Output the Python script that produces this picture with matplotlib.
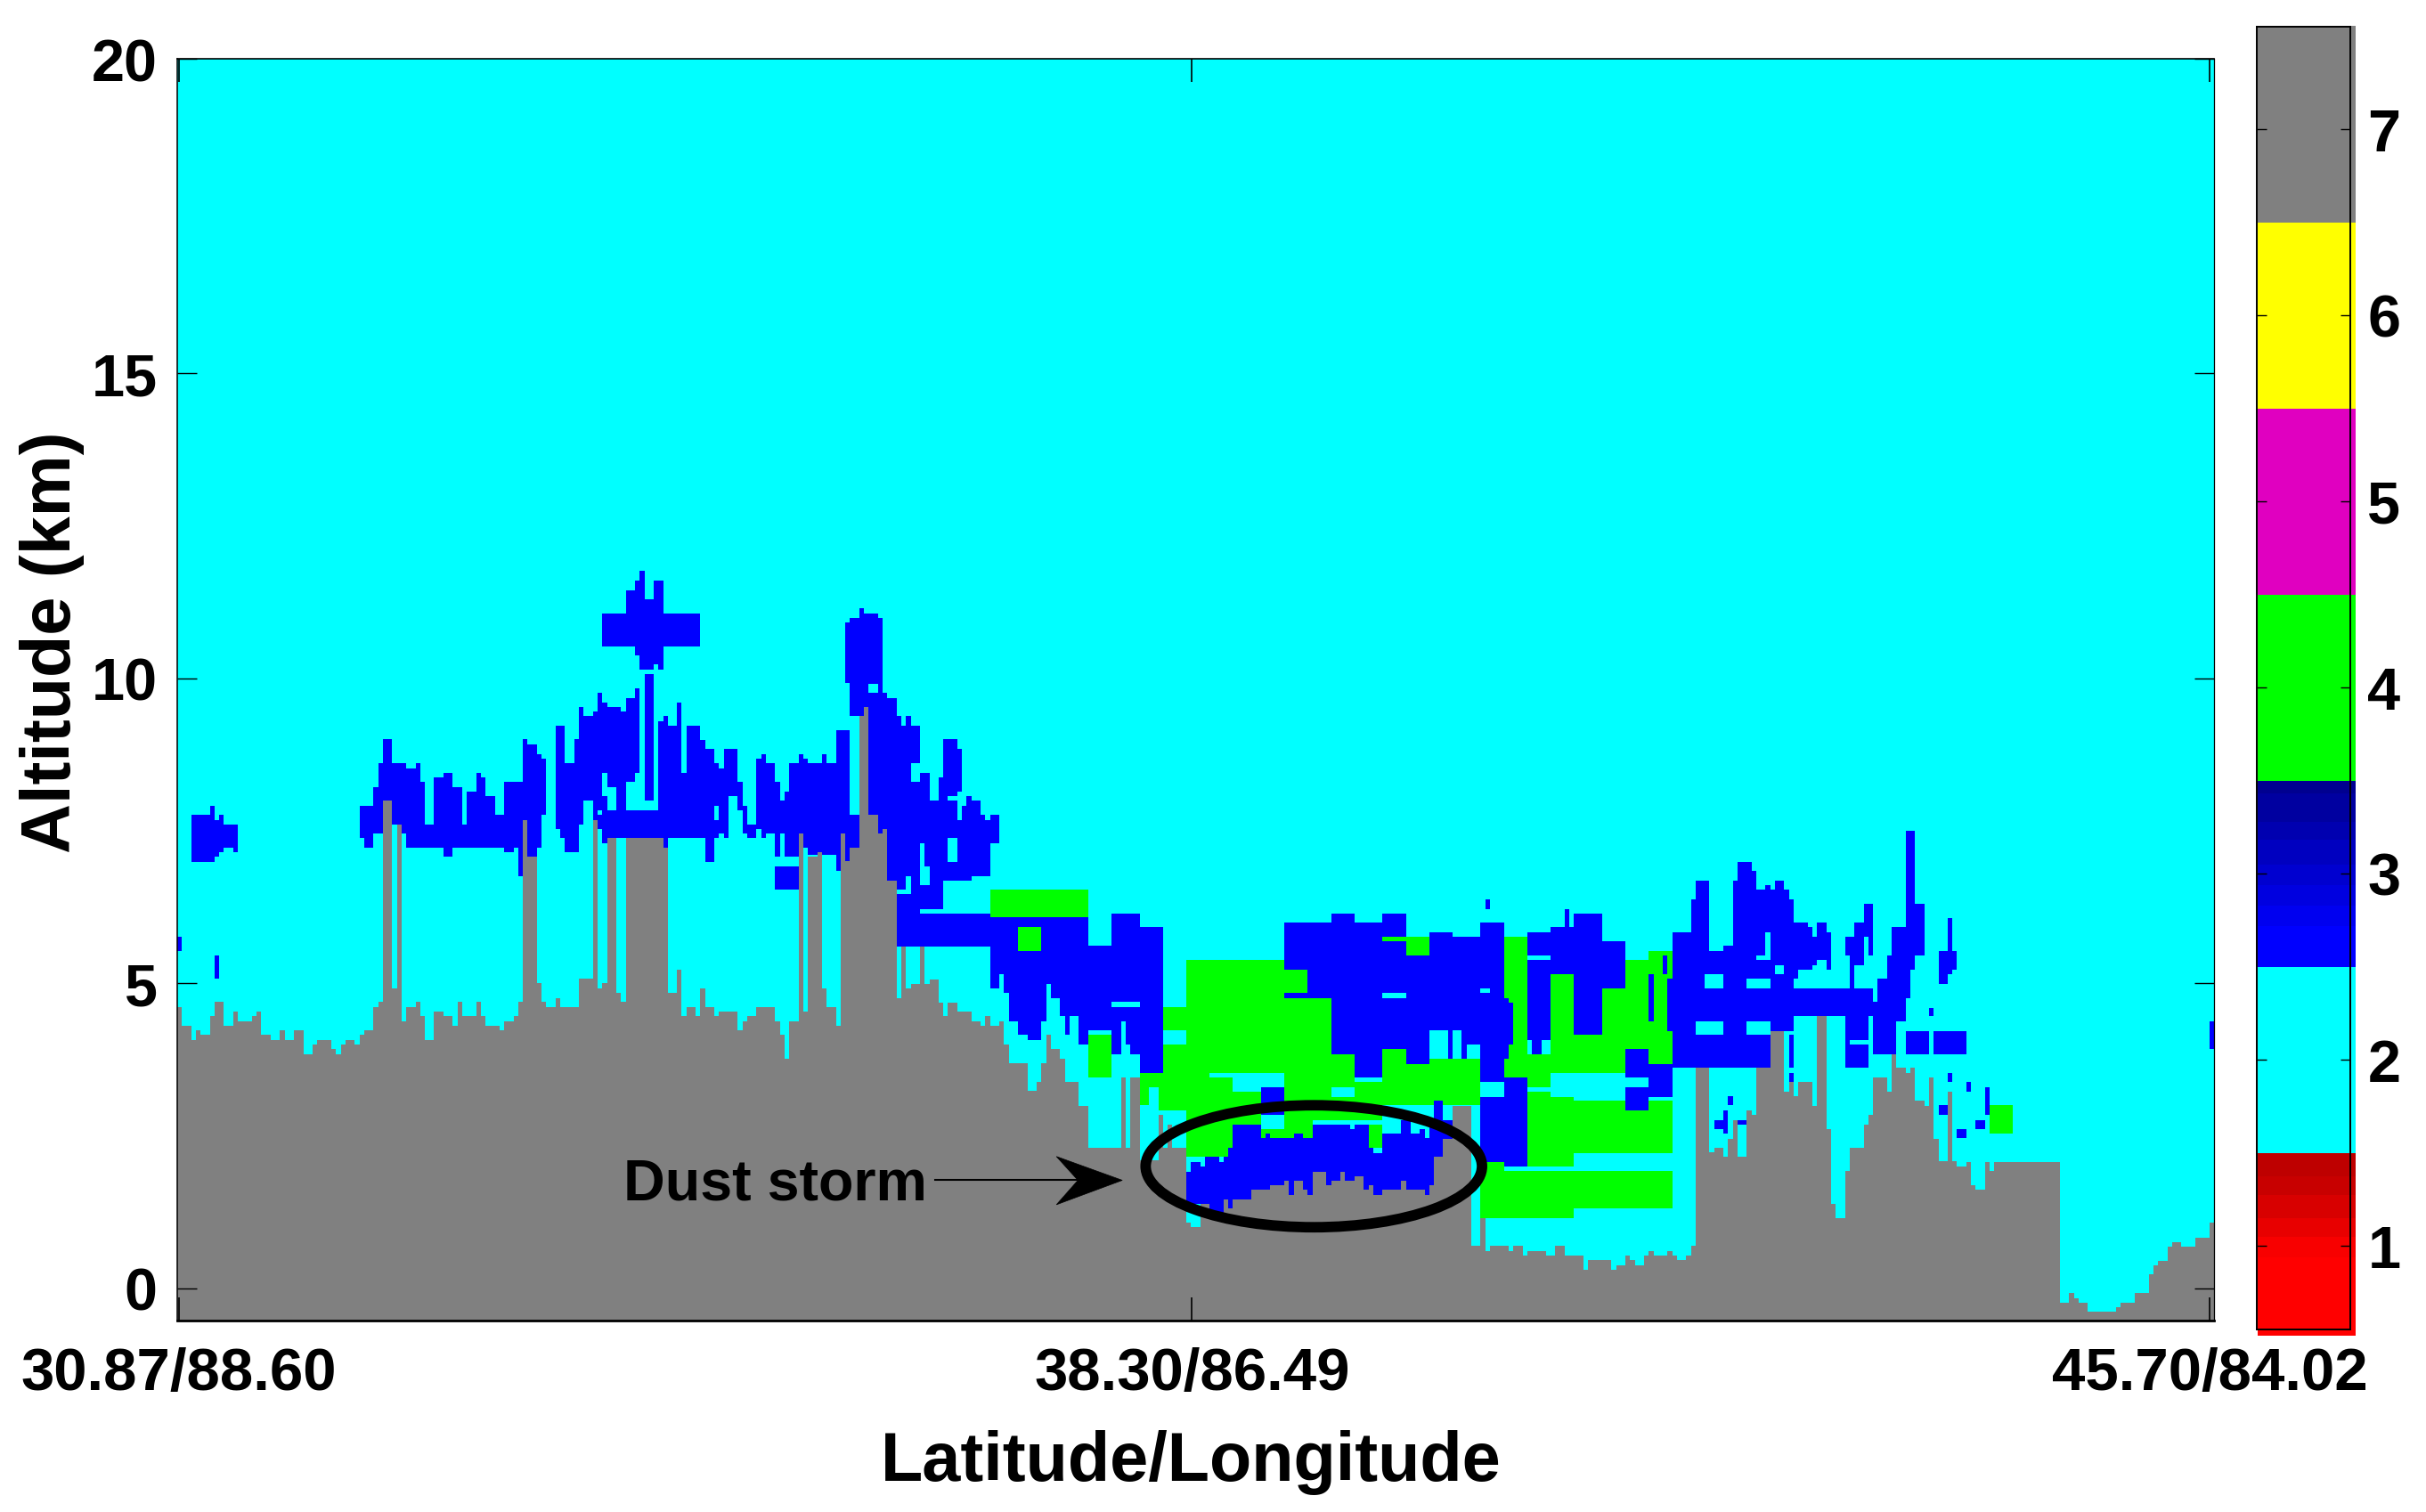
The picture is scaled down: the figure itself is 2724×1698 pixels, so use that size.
"""
Vertical feature mask style curtain with the dust storm marked.
"""

import numpy as np
import matplotlib
matplotlib.use('Agg')
import matplotlib.pyplot as plt
from matplotlib.colors import ListedColormap
from matplotlib.patches import Ellipse, Polygon

plt.rcParams['font.family'] = ['Liberation Sans', 'DejaVu Sans']
plt.rcParams['font.weight'] = 'bold'

# Surface height along the track: (number of profiles, top in km)
ground_runs = [
    (1, 4.61), (2, 4.31), (1, 4.07), (1, 4.23), (2, 4.15), (1, 4.46), (2, 4.69), (2, 4.31), (1, 4.53),
    (3, 4.38), (1, 4.46), (1, 4.53), (2, 4.15), (2, 4.07), (1, 4.23), (2, 4.07), (2, 4.23), (2, 3.84),
    (1, 3.99), (3, 4.07), (1, 3.92), (1, 3.84), (1, 3.99), (2, 4.07), (1, 3.99), (1, 4.15), (2, 4.23),
    (1, 4.61), (1, 4.69), (2, 7.99), (1, 4.92), (1, 7.61), (1, 4.38), (2, 4.61), (1, 4.69), (1, 4.46),
    (2, 4.07), (2, 4.53), (2, 4.46), (1, 4.31), (1, 4.69), (3, 4.46), (1, 4.69), (1, 4.46), (3, 4.31),
    (1, 4.23), (2, 4.38), (1, 4.46), (1, 4.69), (1, 7.68), (2, 7.07), (1, 5.0), (1, 4.69), (2, 4.61),
    (1, 4.76), (4, 4.61), (3, 5.07), (1, 7.68), (1, 4.92), (1, 5.0), (2, 7.38), (1, 4.84), (1, 4.69),
    (8, 7.38), (1, 7.22), (2, 4.84), (1, 5.23), (1, 4.46), (2, 4.61), (1, 4.46), (1, 4.91), (2, 4.61),
    (1, 4.46), (4, 4.53), (1, 4.23), (1, 4.38), (2, 4.46), (4, 4.61), (1, 4.38), (1, 4.15), (1, 3.76),
    (2, 4.38), (1, 7.45), (1, 4.53), (2, 7.07), (1, 7.15), (1, 4.91), (2, 4.61), (1, 4.30), (1, 7.45),
    (1, 7.0), (2, 7.23), (1, 9.38), (1, 9.53), (2, 7.76), (1, 7.45), (1, 7.53), (2, 6.69), (1, 4.76),
    (1, 5.6), (1, 4.91), (2, 4.99), (1, 5.6), (1, 4.99), (2, 5.06), (1, 4.68), (1, 4.46), (2, 4.68),
    (3, 4.53), (2, 4.38), (1, 4.30), (1, 4.46), (2, 4.30), (1, 4.38), (1, 3.99), (4, 3.69), (2, 3.23),
    (1, 3.38), (1, 3.69), (1, 4.15), (2, 3.92), (1, 3.76), (3, 3.38), (2, 2.99), (7, 2.30), (1, 3.46),
    (1, 2.30), (2, 3.46), (4, 2.10), (1, 2.84), (1, 2.30), (1, 2.68), (3, 2.30), (1, 1.08), (2, 1.0),
    (2, 1.38), (3, 1.24), (1, 1.46), (1, 1.31), (4, 1.46), (4, 1.61), (3, 1.69), (1, 1.76), (1, 1.53),
    (2, 1.76), (1, 1.61), (1, 1.53), (3, 1.91), (1, 1.69), (2, 1.76), (1, 1.91), (2, 1.76), (2, 1.84),
    (1, 1.61), (1, 1.69), (2, 1.53), (4, 1.61), (1, 1.76), (4, 1.61), (1, 1.53), (1, 1.69), (2, 2.15),
    (2, 2.45), (4, 2.99), (2, 0.69), (1, 1.15), (1, 0.61), (4, 0.69), (1, 0.61), (2, 0.69), (1, 0.53),
    (4, 0.61), (2, 0.53), (2, 0.69), (4, 0.53), (1, 0.30), (5, 0.46), (1, 0.30), (2, 0.38), (1, 0.53),
    (1, 0.46), (2, 0.38), (1, 0.53), (1, 0.61), (3, 0.53), (1, 0.61), (1, 0.53), (2, 0.46), (1, 0.53),
    (1, 0.69), (3, 3.61), (1, 2.23), (2, 2.30), (1, 2.15), (1, 2.45), (1, 2.76), (2, 2.15), (1, 2.92),
    (1, 2.84), (3, 3.61), (3, 4.22), (1, 3.22), (1, 3.38), (1, 3.15), (3, 3.38), (1, 2.99), (2, 4.46),
    (1, 2.61), (1, 1.38), (2, 1.15), (1, 1.92), (3, 2.30), (1, 2.68), (1, 2.84), (3, 3.46), (1, 3.22),
    (1, 3.84), (2, 3.61), (1, 3.53), (1, 3.61), (2, 3.07), (1, 2.99), (1, 3.46), (1, 2.45), (2, 2.08),
    (1, 3.22), (1, 2.08), (2, 2.0), (1, 2.07), (1, 1.69), (2, 1.61), (1, 2.07), (1, 1.92), (14, 2.07),
    (2, -0.24), (1, -0.08), (1, -0.16), (2, -0.24), (6, -0.39), (1, -0.31), (3, -0.24), (3, -0.08),
    (1, 0.23), (1, 0.38), (2, 0.45), (1, 0.68), (2, 0.76), (3, 0.68), (3, 0.83), (1, 1.07),
]

# Feature boxes: first profile, end profile, lower km, upper km
green_boxes = [
    (174, 195, 6.08, 6.53), (195, 200, 3.46, 4.15), (206, 210, 3.0, 3.53), (210, 211, 2.92, 3.53),
    (211, 216, 2.92, 4.61), (216, 237, 2.15, 5.38), (237, 243, 2.46, 4.76), (237, 242, 4.76, 5.23),
    (243, 247, 2.76, 4.76), (247, 252, 2.76, 3.84), (252, 258, 2.76, 3.38), (258, 263, 3.0, 3.92),
    (263, 268, 3.0, 3.68), (268, 279, 3.0, 3.76), (284, 289, 3.46, 5.77), (289, 294, 3.3, 3.84),
    (294, 299, 3.53, 5.15), (299, 305, 3.53, 4.15), (305, 310, 3.53, 4.92), (310, 315, 3.92, 5.38),
    (315, 320, 3.68, 5.53), (289, 294, 2.0, 3.22), (294, 299, 2.0, 3.14), (299, 320, 2.22, 3.07),
    (279, 284, 1.92, 2.07), (279, 320, 1.31, 1.92), (279, 299, 1.15, 1.31), (388, 393, 2.53, 3.0),
]
blue_boxes = [
    (0, 1, 5.53, 5.76), (8, 9, 5.07, 5.45), (3, 7, 6.99, 7.76), (7, 8, 6.99, 7.91), (8, 9, 7.07, 7.68),
    (9, 10, 7.15, 7.76), (10, 12, 7.23, 7.61), (12, 13, 7.15, 7.61),
    (39, 40, 7.38, 7.91), (40, 42, 7.23, 7.91), (42, 43, 7.45, 8.22), (43, 44, 7.45, 8.61),
    (44, 46, 7.9, 9.0), (46, 48, 7.61, 8.61), (48, 49, 7.45, 8.61), (49, 51, 7.23, 8.53),
    (51, 52, 7.23, 8.61), (52, 53, 7.23, 8.30), (53, 55, 7.23, 7.61), (55, 57, 7.23, 8.38),
    (57, 59, 7.07, 8.45), (59, 61, 7.23, 8.22), (61, 62, 7.23, 7.61), (62, 64, 7.23, 8.15),
    (64, 65, 7.23, 8.45), (65, 66, 7.23, 8.38), (66, 68, 7.23, 8.07), (68, 70, 7.23, 7.76),
    (70, 72, 7.15, 8.30), (72, 73, 7.23, 8.30), (73, 74, 6.76, 8.30), (74, 75, 7.0, 9.0),
    (75, 77, 7.0, 8.92), (77, 78, 7.23, 8.76), (78, 79, 7.76, 8.69), (81, 82, 7.53, 9.22),
    (82, 83, 7.38, 9.22), (83, 85, 7.15, 8.61), (85, 86, 7.15, 9.0), (86, 87, 7.61, 9.53),
    (87, 89, 8.0, 9.38), (89, 90, 7.6, 9.45), (90, 91, 7.53, 9.76), (91, 92, 7.30, 9.61),
    (92, 95, 8.22, 9.53), (95, 96, 8.22, 9.45), (96, 98, 8.30, 9.68), (98, 99, 8.45, 9.84),
    (100, 102, 7.99, 10.07), (92, 113, 7.38, 7.84), (94, 96, 7.84, 8.22),
    (91, 112, 10.53, 11.07), (96, 98, 10.53, 11.45), (98, 99, 10.38, 11.61), (99, 100, 10.15, 11.76),
    (100, 102, 10.15, 11.30), (102, 103, 10.23, 11.61), (103, 104, 10.15, 11.61),
    (103, 104, 7.38, 9.30), (104, 105, 7.22, 9.38), (105, 107, 7.38, 9.22), (107, 108, 7.38, 9.61),
    (108, 109, 7.38, 8.45), (109, 112, 7.38, 9.22), (112, 113, 7.45, 8.99), (113, 115, 6.99, 8.84),
    (115, 116, 7.38, 8.61), (116, 117, 7.45, 8.53), (117, 118, 7.38, 8.84), (118, 120, 8.07, 8.84),
    (120, 121, 7.84, 8.30), (121, 122, 7.45, 7.91), (122, 124, 7.38, 7.61), (124, 125, 7.53, 8.69),
    (125, 126, 7.38, 8.76), (126, 128, 7.45, 8.61), (128, 129, 7.07, 8.30), (129, 130, 7.45, 8.0),
    (130, 131, 7.07, 8.15), (131, 133, 7.07, 8.61), (128, 133, 6.53, 6.92), (133, 134, 7.4, 8.76),
    (134, 135, 7.23, 8.69), (135, 138, 7.1, 8.61), (138, 139, 7.1, 8.76), (139, 141, 7.1, 8.61),
    (141, 142, 6.84, 9.15), (142, 143, 7.4, 9.15), (143, 144, 6.99, 9.15), (144, 146, 7.2, 7.76),
    (143, 144, 9.92, 10.92), (144, 146, 9.38, 10.99), (146, 147, 9.3, 11.15), (147, 148, 9.3, 11.07),
    (148, 150, 7.7, 11.07), (150, 151, 7.4, 10.99), (151, 152, 7.5, 9.76), (152, 154, 6.6, 9.68),
    (154, 155, 5.6, 9.38), (155, 156, 5.6, 9.22), (156, 157, 5.6, 9.38), (157, 159, 5.6, 9.22),
    (159, 161, 6.21, 8.45), (161, 163, 6.21, 7.99), (163, 164, 6.21, 8.38), (164, 167, 6.69, 9.0),
    (167, 168, 6.69, 8.84), (168, 169, 6.69, 7.91), (169, 170, 6.69, 8.07), (170, 172, 6.76, 7.99),
    (172, 173, 6.76, 7.76), (173, 174, 6.76, 7.68), (174, 176, 7.30, 7.76), (154, 174, 5.6, 6.15),
    (174, 176, 4.92, 6.08), (176, 177, 5.15, 6.08), (177, 178, 4.84, 6.08), (178, 180, 4.38, 6.08),
    (180, 182, 4.15, 6.08), (182, 185, 4.07, 6.08), (185, 186, 4.38, 6.08), (186, 187, 4.99, 6.08),
    (187, 189, 4.76, 6.08), (189, 190, 4.46, 6.08), (190, 191, 4.15, 6.08), (191, 193, 4.46, 6.08),
    (193, 195, 3.99, 6.08), (195, 200, 4.23, 5.61), (200, 202, 3.84, 6.15), (202, 203, 4.38, 6.15),
    (203, 204, 3.99, 6.15), (204, 206, 3.84, 6.15), (206, 211, 3.53, 5.92),
    (237, 242, 5.23, 5.99), (237, 242, 4.76, 4.84), (242, 247, 4.76, 5.99), (247, 252, 3.84, 6.15),
    (252, 258, 3.46, 5.99), (258, 263, 3.92, 6.15), (263, 268, 3.68, 5.77), (268, 273, 3.76, 5.84),
    (273, 279, 3.76, 5.77), (279, 284, 3.38, 5.99), (284, 285, 3.76, 4.76), (285, 286, 4.0, 4.68),
    (279, 284, 2.07, 3.14), (284, 289, 2.0, 3.46), (289, 290, 4.07, 5.84), (290, 292, 3.84, 5.84),
    (292, 294, 4.07, 5.84), (294, 297, 5.15, 5.92), (297, 298, 5.15, 6.22), (298, 299, 5.15, 5.92),
    (299, 305, 4.15, 6.15), (305, 310, 4.92, 5.69), (310, 315, 3.46, 3.92), (315, 320, 3.14, 3.68),
    (310, 315, 2.92, 3.3), (318, 319, 5.15, 5.45), (315, 316, 4.38, 5.15), (319, 320, 4.22, 5.07),
    (320, 324, 3.61, 5.84), (324, 325, 3.61, 6.38), (325, 328, 3.61, 6.69), (328, 331, 3.61, 5.53),
    (331, 333, 3.61, 5.61), (333, 334, 3.61, 6.69), (334, 337, 3.61, 6.99), (337, 338, 3.61, 6.84),
    (338, 340, 3.61, 6.53), (340, 341, 3.61, 6.61), (341, 342, 4.22, 6.53), (342, 344, 4.22, 6.69),
    (344, 345, 4.22, 6.53), (345, 346, 4.22, 6.38), (346, 347, 5.07, 5.99), (347, 349, 5.22, 5.99),
    (349, 350, 5.22, 5.92), (350, 351, 5.3, 5.77), (351, 353, 5.38, 5.99), (353, 354, 5.22, 5.84),
    (346, 357, 4.46, 4.92), (357, 358, 5.45, 5.77), (358, 359, 4.92, 5.77), (359, 361, 5.3, 5.99),
    (361, 362, 5.77, 6.3), (362, 363, 5.45, 6.3), (357, 362, 3.61, 4.92), (362, 363, 4.46, 4.92),
    (363, 364, 4.46, 4.69), (363, 368, 3.84, 4.46), (364, 366, 4.22, 5.07), (366, 367, 4.22, 5.45),
    (367, 370, 4.38, 5.92), (370, 371, 4.76, 7.5), (371, 372, 5.23, 7.5), (372, 374, 5.45, 6.3),
    (370, 375, 3.84, 4.22), (376, 383, 3.84, 4.22), (377, 379, 4.99, 5.53), (379, 380, 5.53, 6.07),
    (377, 381, 5.22, 5.53), (379, 380, 5.15, 5.22), (375, 376, 4.46, 4.6), (379, 380, 3.38, 3.53),
    (383, 384, 3.22, 3.38), (387, 388, 2.84, 3.3), (377, 379, 2.84, 3.0), (385, 387, 2.61, 2.76),
    (381, 383, 2.46, 2.61), (332, 333, 3.0, 3.15), (331, 332, 2.53, 2.92), (329, 331, 2.61, 2.76),
    (334, 336, 2.68, 2.76), (345, 346, 3.61, 4.15), (345, 346, 3.38, 3.53), (435, 436, 3.92, 4.38),
    (280, 281, 6.22, 6.38), (232, 237, 2.85, 3.30),
    # the dust layer itself
    (216, 217, 1.38, 1.91), (217, 219, 1.38, 2.07), (219, 220, 1.0, 1.99), (220, 223, 1.0, 2.15),
    (223, 224, 1.0, 2.07), (224, 225, 1.0, 2.15), (225, 226, 1.0, 2.30), (226, 232, 1.0, 2.68),
    (232, 233, 1.0, 2.46), (233, 234, 1.0, 2.54), (234, 239, 1.0, 2.46), (239, 241, 1.0, 2.54),
    (241, 243, 1.0, 2.46), (243, 251, 1.0, 2.68), (251, 252, 1.0, 2.61), (252, 255, 1.0, 2.68),
    (255, 256, 1.0, 2.30), (256, 258, 1.0, 2.22), (258, 262, 1.0, 2.54), (262, 264, 1.0, 2.76),
    (264, 266, 1.0, 2.54), (266, 267, 1.0, 2.61), (267, 268, 1.0, 2.46), (268, 269, 1.0, 2.76),
    (269, 271, 2.15, 3.07), (271, 273, 2.45, 2.76),
]
clear_boxes = [
    (91, 92, 8.07, 8.45), (90, 91, 7.76, 7.84), (115, 116, 7.68, 7.91), (148, 150, 9.76, 9.91),
    (157, 159, 8.30, 8.61), (156, 157, 6.46, 6.76), (154, 157, 6.46, 6.53), (159, 160, 6.92, 7.30),
    (159, 161, 6.61, 6.92), (165, 167, 6.99, 7.38), (165, 167, 8.0, 8.07), (167, 168, 7.68, 8.15),
    (200, 206, 4.61, 4.69), (211, 216, 4.0, 4.23), (208, 210, 3.0, 3.30), (221, 226, 3.46, 3.53),
    (226, 237, 3.30, 3.53), (226, 232, 3.22, 3.30), (232, 237, 2.61, 2.85), (247, 252, 3.14, 3.30),
    (268, 272, 3.76, 4.23), (273, 275, 3.76, 4.23), (276, 279, 3.76, 3.99), (258, 263, 4.76, 4.85),
    (279, 281, 4.84, 4.92), (327, 331, 4.92, 5.15), (336, 341, 4.92, 5.07), (325, 331, 4.15, 4.38),
    (336, 341, 4.15, 4.38), (342, 344, 5.15, 5.3), (340, 341, 5.38, 5.84), (338, 340, 5.38, 5.45),
    (358, 362, 4.0, 4.07), (289, 294, 5.38, 5.45),
]
green_patches = [
    (180, 185, 5.53, 5.92), (258, 263, 5.69, 5.76), (263, 268, 5.46, 5.76), (255, 258, 2.30, 2.68),
]

# Class colours and colour bar bands
class_colors = ['#FF0000', '#00FFFF', '#0000FF', '#00FF00', '#E000C0', '#FFFF00', '#808080']
cbar_edges = [0.517, 0.94, 1.05, 1.15, 1.275, 1.375, 1.5, 2.5, 2.72, 2.83, 2.94, 3.05, 3.18, 3.28, 3.43,
              3.5, 4.5, 5.5, 6.5, 7.555]
cbar_colors = ['#FF0000', '#F80000', '#E80000', '#D80000', '#C80000', '#BE0000', '#00FFFF', '#0000FF',
               '#0000F0', '#0000E0', '#0000D0', '#0000C0', '#0000B0', '#0000A0', '#000090', '#00FF00',
               '#E000C0', '#FFFF00', '#808080']

y_ticks = [0, 5, 10, 15, 20.16]
y_labels = ['0', '5', '10', '15', '20']
x_ticks = [0.4, 217.2, 435.1]
x_labels = ['30.87/88.60', '38.30/86.49', '45.70/84.02']
cbar_ticks = [1, 2, 3, 4, 5, 6, 7]

W, H = 2724, 1699
y_min, y_max = -0.53, 20.16
dz = 0.01
n_cols = 436


def px_axes(left, top, right, bottom):
    return [left / W, 1 - bottom / H, (right - left) / W, (bottom - top) / H]


# Build the curtain
z_edges = np.arange(y_min, y_max + dz, dz)
z_mid = 0.5 * (z_edges[:-1] + z_edges[1:])
curtain = np.full((len(z_mid), n_cols), 2)


def paint(boxes, value):
    for c0, c1, z0, z1 in boxes:
        curtain[(z_mid >= z0) & (z_mid < z1), c0:c1] = value


paint(green_boxes, 4)
paint(blue_boxes, 3)
paint(clear_boxes, 2)
paint(green_patches, 4)

ground_counts = [run[0] for run in ground_runs]
ground_tops = [run[1] for run in ground_runs]
ground = np.repeat(ground_tops, ground_counts)
for col in range(min(n_cols, len(ground))):
    curtain[z_mid < ground[col], col] = 7

fig = plt.figure(figsize=(W / 100, H / 100), dpi=100, facecolor='white')

ax = fig.add_axes(px_axes(199, 67, 2486, 1484))
ax.imshow(curtain, origin='lower', aspect='auto', interpolation='nearest',
          extent=[0, n_cols, z_edges[0], z_edges[-1]],
          cmap=ListedColormap(class_colors), vmin=0.5, vmax=7.5)
ax.set_xlim(0, n_cols)
ax.set_ylim(y_min, y_max)
ax.set_yticks(y_ticks)
ax.set_yticklabels(y_labels, fontsize=48, fontweight='bold')
ax.set_xticks(x_ticks)
ax.set_xticklabels(x_labels, fontsize=48.3, fontweight='bold')
ax.tick_params(axis='y', direction='in', length=16, width=1.0, pad=16, left=True, right=True)
ax.tick_params(axis='x', direction='in', length=19, width=1.2, pad=21, bottom=True, top=True)
for name, lw in [('left', 1.1), ('right', 0.9), ('top', 1.2), ('bottom', 2.0)]:
    ax.spines[name].set_linewidth(lw)

fig.text(59 / W, 1 - 721 / H, 'Altitude (km)', rotation=90, fontsize=55.8, fontweight='bold',
         ha='center', va='center')
fig.text(1337 / W, 1 - 1643 / H, 'Latitude/Longitude', fontsize=55.8, fontweight='bold',
         ha='center', va='center')

# Dust storm annotation
ax.add_patch(Ellipse((243.3, 2.0), 72, 2.0, fill=False, edgecolor='black', linewidth=8.5, zorder=5))
ax.plot([162.2, 193], [1.77, 1.77], color='black', lw=1.5, zorder=5)
ax.add_patch(Polygon([(202.3, 1.77), (188.2, 2.16), (192.8, 1.77), (188.2, 1.37)],
                     closed=True, facecolor='black', edgecolor='black', lw=0.5, zorder=5))
ax.text(95.5, 1.71, 'Dust storm', fontsize=46.5, fontweight='bold', ha='left', va='center', zorder=6)

# Colour bar: the bands overshoot the frame a little, as in the original
cax_img = fig.add_axes(px_axes(2535, 30, 2645, 1501))
cax_img.pcolormesh([0, 1], cbar_edges, np.arange(len(cbar_colors)).reshape(-1, 1),
                   cmap=ListedColormap(cbar_colors), vmin=-0.5, vmax=len(cbar_colors) - 0.5)
cax_img.set_xlim(0, 1)
cax_img.set_ylim(cbar_edges[0], cbar_edges[-1])
cax_img.axis('off')

cax = fig.add_axes(px_axes(2534, 31, 2639, 1494))
cax.patch.set_alpha(0)
cax.set_xticks([])
cax.set_ylim(0.55, 7.55)
cax.set_yticks(cbar_ticks)
cax.set_yticklabels([str(t) for t in cbar_ticks], fontsize=48, fontweight='bold')
cax.yaxis.tick_right()
cax.tick_params(axis='y', direction='in', length=8, width=1.0, pad=14, left=True, right=True)
for spine in cax.spines.values():
    spine.set_linewidth(1.4)

plt.savefig('out.png', dpi=100)
plt.close()
